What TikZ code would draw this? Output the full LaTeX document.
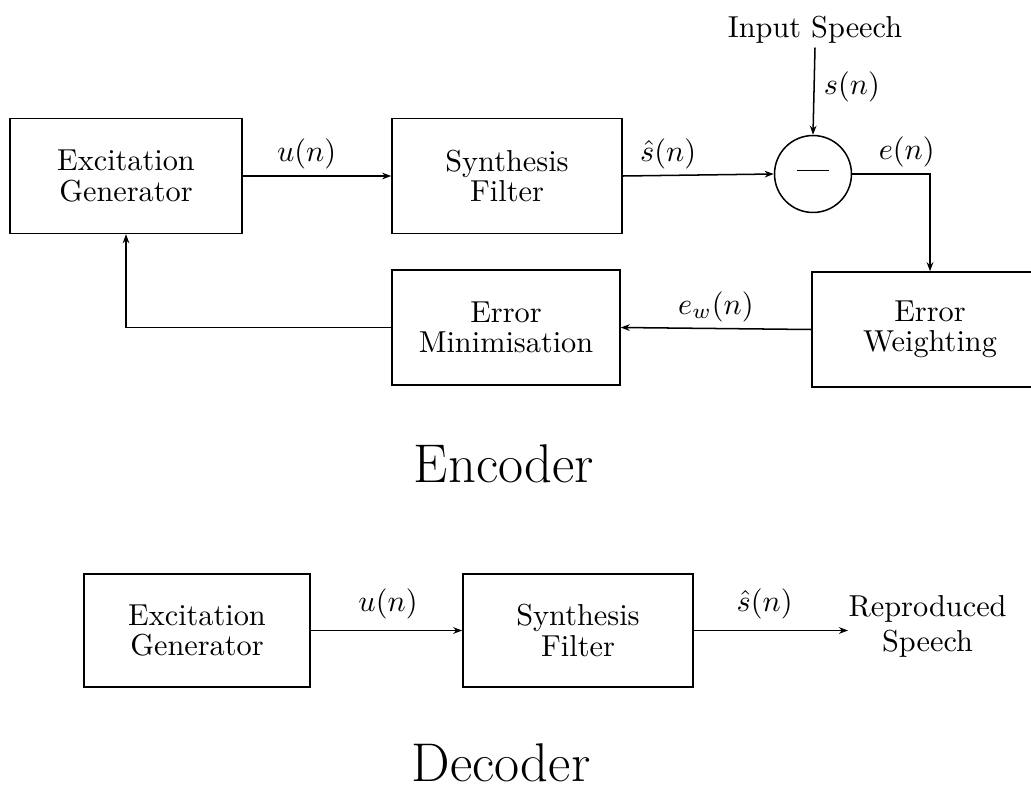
\documentclass[tikz,border=0pt]{standalone}
\usetikzlibrary{arrows.meta}
\begin{document}
\begin{tikzpicture}[x=0.33pt,y=-0.33pt,
  box/.style={draw, line width=0.5pt, minimum width=#1, minimum height=37.9pt,
    align=center, inner sep=0pt, font=\fontsize{10}{10}\selectfont},
  lbl/.style={font=\fontsize{10}{10}\selectfont},
  arr/.style={line width=0.5pt, -{Stealth[length=3pt,width=2.2pt]}},
  lab/.style={above, inner sep=2pt, font=\fontsize{10}{10}\selectfont},
  big/.style={font=\fontsize{18}{18}\selectfont, anchor=base, inner sep=0pt}]
\useasboundingbox (0,0) rectangle (1031,788);
\clip (0,0) rectangle (1031,788);
% Encoder
\node[box=76.6pt] (eg1) at (126,176) {Excitation\\Generator};
\node[box=75.9pt] (sf1) at (507,176) {Synthesis\\Filter};
\node[draw, circle, line width=0.5pt, minimum size=25.4pt, inner sep=0pt] (sum) at (813,174) {\rule[2.3pt]{10.5pt}{0.4pt}};
\node[lbl, anchor=base, inner sep=1pt] (in) at (815,38) {Input Speech};
\node[box=77.9pt] (ew) at (930,329.5) {Error\\Weighting};
\node[box=75.2pt] (em) at (506,327.5) {Error\\Minimisation};
\node[big] (enc) at (504,482) {Encoder};
\draw[arr] (eg1.east) -- node[lab, pos=0.43] {$u(n)$} (sf1.west);
\draw[arr] (sf1.east) -- node[lab, pos=0.3] {$\hat{s}(n)$} (sum.west);
\draw[arr] (in.south) -- node[right, pos=0.45, lbl, inner sep=3pt] {$s(n)$} (sum.north);
\draw[arr] (sum.east) -| node[lab, pos=0.35] {$e(n)$} (ew.north);
\draw[arr] (ew.west) -- node[lab, pos=0.5] {$e_w(n)$} (em.east);
\draw[arr] (em.west) -| (eg1.south);
% Decoder
\node[box=74.6pt, minimum height=37.3pt] (eg2) at (197,630.5) {Excitation\\Generator};
\node[box=75.9pt, minimum height=37.3pt] (sf2) at (578,630.5) {Synthesis\\Filter};
\node[anchor=west, inner sep=0pt, align=center, font=\fontsize{10}{11.5}\selectfont] (rs) at (848,626) {Reproduced\\Speech};
\node[big] (dec) at (501,781) {Decoder};
\draw[arr] (eg2.east) -- node[lab, pos=0.51, inner sep=3.6pt] {$u(n)$} (sf2.west);
\draw[arr] (sf2.east) -- node[lab, pos=0.46, inner sep=3.6pt] {$\hat{s}(n)$} (sf2.east -| rs.west);
\end{tikzpicture}
\end{document}
